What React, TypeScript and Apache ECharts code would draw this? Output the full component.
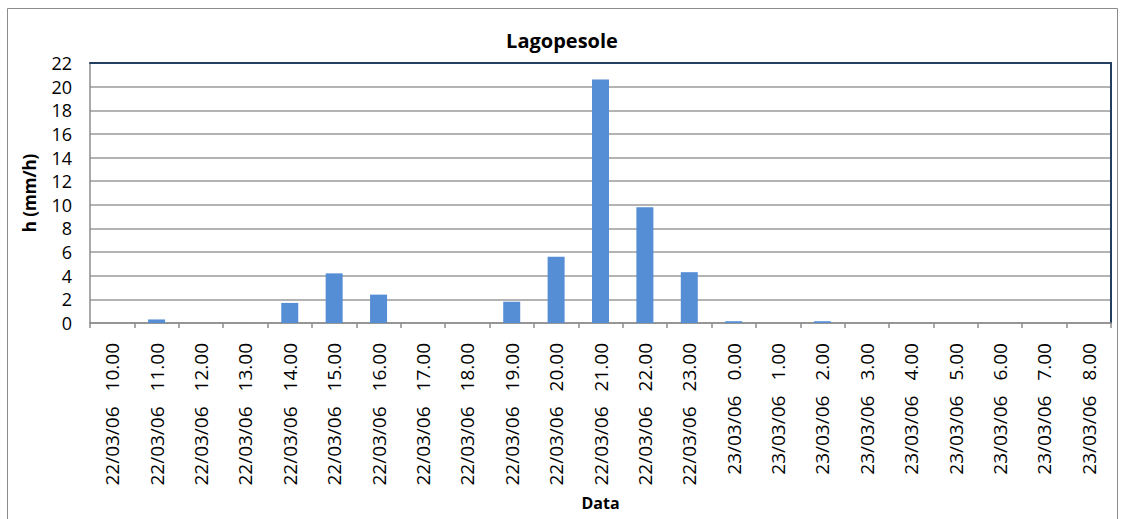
import React, { useEffect, useRef } from "react";
import * as echarts from "echarts";

const dates = [
  "22/03/06", "22/03/06", "22/03/06", "22/03/06", "22/03/06", "22/03/06",
  "22/03/06", "22/03/06", "22/03/06", "22/03/06", "22/03/06", "22/03/06",
  "22/03/06", "22/03/06", "23/03/06", "23/03/06", "23/03/06", "23/03/06",
  "23/03/06", "23/03/06", "23/03/06", "23/03/06", "23/03/06",
];
const times = [
  "10.00", "11.00", "12.00", "13.00", "14.00", "15.00", "16.00", "17.00",
  "18.00", "19.00", "20.00", "21.00", "22.00", "23.00", "0.00", "1.00",
  "2.00", "3.00", "4.00", "5.00", "6.00", "7.00", "8.00",
];
const values = [
  0, 0.3, 0, 0, 1.7, 4.2, 2.4, 0, 0, 1.8, 5.6, 20.6, 9.8, 4.3, 0.15, 0, 0.15,
  0, 0, 0, 0, 0, 0,
];
const categories = dates.map((d, i) => d + "|" + times[i]);

const FONT = "'Open Sans', 'Liberation Sans', sans-serif";

export default function App() {
  const ref = useRef<HTMLDivElement>(null);
  useEffect(() => {
    if (!ref.current) return;
    const chart = echarts.init(ref.current, null, { renderer: "svg" });
    chart.setOption({
      animation: false,
      backgroundColor: "#ffffff",
      textStyle: { fontFamily: FONT, color: "#000" },
      title: {
        text: "Lagopesole",
        left: "center",
        top: 25,
        textStyle: { fontFamily: FONT, fontSize: 20, fontWeight: "bold", color: "#000" },
      },
      graphic: [
        {
          type: "rect",
          shape: { x: 7.5, y: 8.5, width: 1110, height: 530 },
          style: { fill: "none", stroke: "#8c8c8c", lineWidth: 1 },
          silent: true,
        },
      ],
      grid: {
        left: 90,
        right: 13,
        top: 63,
        bottom: 196,
        containLabel: false,
        outerBoundsMode: "none",
      },
      xAxis: [
        {
          type: "category",
          data: categories,
          name: "Data",
          nameLocation: "middle",
          nameGap: 172,
          nameTextStyle: { fontFamily: FONT, fontSize: 16, fontWeight: "bold", color: "#000" },
          axisLine: { onZero: false, lineStyle: { color: "#8c8c8c", width: 1.5 } },
          axisTick: { show: true, length: 5, lineStyle: { color: "#8c8c8c", width: 1.5 } },
          axisLabel: {
            rotate: 90,
            interval: 0,
            margin: 20,
            fontFamily: FONT,
            fontSize: 19,
            color: "#000",
            formatter: (v: string) => {
              const [d, t] = v.split("|");
              return "{d|" + d + "}{t|" + t + "}";
            },
            rich: {
              d: { fontFamily: FONT, fontSize: 19, color: "#000" },
              t: { fontFamily: FONT, fontSize: 19, color: "#000", padding: [0, 0, 0, 15] },
            },
          },
        },
        {
          type: "category",
          position: "top",
          data: categories,
          axisLine: { show: true, onZero: false, lineStyle: { color: "#243f60", width: 2 } },
          axisTick: { show: false },
          axisLabel: { show: false },
        },
      ],
      yAxis: [
        {
          type: "value",
          min: 0,
          max: 22,
          interval: 2,
          name: "h (mm/h)",
          nameLocation: "middle",
          nameGap: 52,
          nameRotate: 90,
          nameTextStyle: { fontFamily: FONT, fontSize: 17, fontWeight: "bold", color: "#000" },
          axisLine: { show: true, onZero: false, lineStyle: { color: "#8c8c8c", width: 1.5 } },
          axisTick: { show: false },
          axisLabel: { fontFamily: FONT, fontSize: 18, color: "#000", margin: 18 },
          splitLine: { lineStyle: { color: "#9a9a9a", width: 1.5 } },
        },
        {
          type: "value",
          position: "right",
          min: 0,
          max: 22,
          interval: 2,
          axisLine: { show: true, onZero: false, lineStyle: { color: "#243f60", width: 2 } },
          axisTick: { show: false },
          axisLabel: { show: false },
          splitLine: { show: false },
        },
      ],
      series: [
        {
          type: "bar",
          data: values,
          barWidth: 17,
          itemStyle: { color: "#558ed5" },
        },
      ],
    });
    return () => chart.dispose();
  }, []);
  return (
    <div
      ref={ref}
      style={{ position: "fixed", left: 0, top: 0, width: 1124, height: 519 }}
    />
  );
}
